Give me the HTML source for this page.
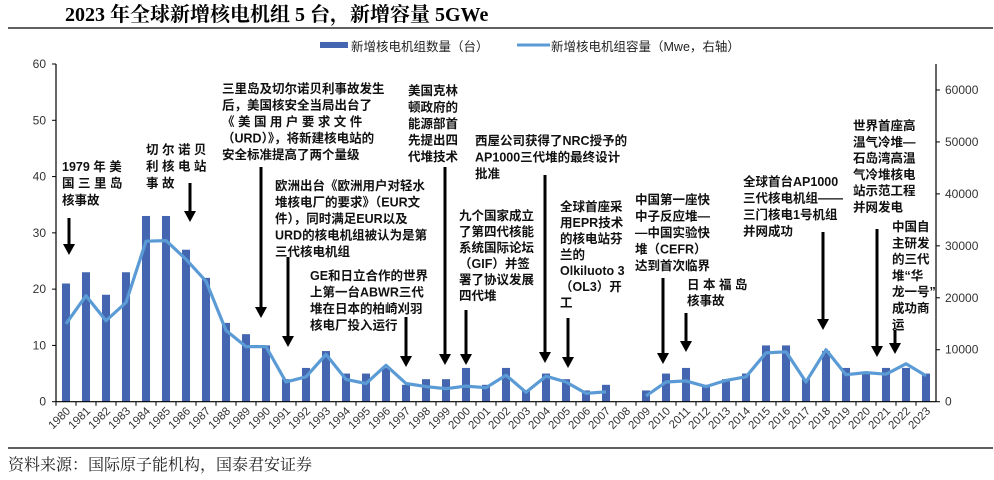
<!DOCTYPE html>
<html><head><meta charset="utf-8"><style>
body{margin:0;background:#fff;}
svg text{font-family:"Liberation Sans","Noto Sans CJK SC",sans-serif;}
.ann{font-size:12.5px;font-weight:bold;fill:#111;}
</style></head><body>
<svg id="c" width="994" height="475" xmlns="http://www.w3.org/2000/svg">
<text x="65" y="21" style="font-family:'Liberation Serif','Noto Serif CJK SC',serif;font-size:20px;font-weight:bold">2023 年全球新增核电机组 5 台，新增容量 5GWe</text>
<line x1="8" y1="28" x2="993" y2="28" stroke="#000" stroke-width="1.3"/>
<g>
<rect x="320" y="42" width="28" height="6" fill="#4466b0"/>
<text x="351" y="51" font-size="12.5" fill="#222">新增核电机组数量（台）</text>
<line x1="517" y1="45" x2="550" y2="45" stroke="#5b9bd5" stroke-width="3"/>
<text x="551" y="51" font-size="12.5" fill="#222">新增核电机组容量（Mwe，右轴）</text>
</g>
<g id="plot"></g>
<g id="ann"></g>
<line x1="8" y1="448" x2="993" y2="448" stroke="#000" stroke-width="1.2"/>
<text x="8" y="470" font-size="16" fill="#222" style="font-family:'Liberation Serif','Noto Serif CJK SC',serif">资料来源：国际原子能机构，国泰君安证券</text>
</svg>
<script>
const years=[1980,1981,1982,1983,1984,1985,1986,1987,1988,1989,1990,1991,1992,1993,1994,1995,1996,1997,1998,1999,2000,2001,2002,2003,2004,2005,2006,2007,2008,2009,2010,2011,2012,2013,2014,2015,2016,2017,2018,2019,2020,2021,2022,2023];
const units=[21,23,19,23,33,33,27,22,14,12,10,4,6,9,5,5,6,3,4,4,6,3,6,2,5,4,2,3,0,2,5,6,3,4,5,10,10,4,9,6,5,6,6,5];
const capacity=[15000,20400,15600,19100,30900,31000,27400,23200,13700,10600,10600,3800,4800,9100,4300,3500,7000,3500,2900,2500,3000,2700,5100,1800,4900,3800,1600,1900,null,1100,3800,4000,2900,4100,4800,9400,9600,3800,10000,5200,5600,5300,7300,5000];
const leftTicks=[0,10,20,30,40,50,60];
const rightTicks=[0,10000,20000,30000,40000,50000,60000];
const NS='http://www.w3.org/2000/svg';
const X0=56,X1=936,Y0=401.7,Y1=64;
const step=(X1-X0)/years.length;
const xc=i=>X0+step*(i+0.5);
const yL=v=>Y0-(v/60)*(Y0-Y1);
const yR=v=>Y0-(v/65000)*(Y0-Y1);
const plot=document.getElementById('plot');
function mk(tag,attrs,parent){const e=document.createElementNS(NS,tag);for(const k in attrs)e.setAttribute(k,attrs[k]);(parent||plot).appendChild(e);return e;}
units.forEach((v,i)=>{const r=mk('rect',{x:xc(i)-4,y:yL(v),width:8,height:Y0-yL(v),fill:'#4466b0'});

});
let d='',pen=false;
capacity.forEach((v,i)=>{if(v===null){pen=false;return;}d+=(pen?'L':'M')+xc(i).toFixed(1)+','+yR(v).toFixed(1);pen=true;});
const ln=mk('path',{d:d,fill:'none',stroke:'#5b9bd5','stroke-width':3.2,'stroke-linejoin':'round'});


const ax=mk('line',{x1:X0,y1:Y1,x2:X0,y2:Y0,stroke:'#000','stroke-width':1.2});


const ar=mk('line',{x1:X1,y1:Y1,x2:X1,y2:Y0,stroke:'#000','stroke-width':1.2});


const axb=mk('line',{x1:X0,y1:Y0,x2:X1,y2:Y0,stroke:'#000','stroke-width':1.2});


leftTicks.forEach(v=>{mk('line',{x1:X0-4,y1:yL(v),x2:X0,y2:yL(v),stroke:'#000'});
const t=mk('text',{x:X0-10,y:yL(v)+4,'text-anchor':'end','font-size':12,fill:'#333'});t.textContent=v;

});
rightTicks.forEach(v=>{mk('line',{x1:X1,y1:yR(v),x2:X1+4,y2:yR(v),stroke:'#000'});
const t=mk('text',{x:X1+9,y:yR(v)+4,'font-size':12,fill:'#333'});t.textContent=v;

});
years.forEach((y,i)=>{mk('line',{x1:X0+step*i,y1:Y0,x2:X0+step*i,y2:Y0+4,stroke:'#000'});
const x=xc(i)+5,yy=Y0+10;
const t=mk('text',{x:x,y:yy,'text-anchor':'end','font-size':11.5,fill:'#333',transform:'rotate(-45 '+x+' '+yy+')'});t.textContent=y;

});
const ann=document.getElementById('ann');
const arrows=[[69,218,255],[190,183,222],[261,167,318],[288,257,347],[406,317,367],[445,167,365],[466,310,365],[545,175,363],[568,318,368],[663,278,364],[686,313,352],[823,232,330],[877,229,357],[895,330,354]];
arrows.forEach(a=>{const g=mk('g',{},ann);


mk('line',{x1:a[0],y1:a[1],x2:a[0],y2:a[2]-9,stroke:'#000','stroke-width':3},g);
mk('polygon',{points:(a[0]-6)+','+(a[2]-11)+' '+(a[0]+6)+','+(a[2]-11)+' '+a[0]+','+a[2],fill:'#000'},g);});
const texts=[
[62,167,16.7,['1979 年 美','国 三 里 岛','核事故']],
[146,150,16.7,['切 尔 诺 贝','利 核 电 站','事 故']],
[222,89,16.5,['三里岛及切尔诺贝利事故发生','后，美国核安全当局出台了','《 美 国 用 户 要 求 文 件','（URD）》，将新建核电站的','安全标准提高了两个量级']],
[408,91,16.5,['美国克林','顿政府的','能源部首','先提出四','代堆技术']],
[275,186,16.5,['欧洲出台《欧洲用户对轻水','堆核电厂的要求》（EUR文','件），同时满足EUR以及','URD的核电机组被认为是第','三代核电机组']],
[475,141,16.5,['西屋公司获得了NRC授予的','AP1000三代堆的最终设计','批准']],
[459,216,16,['九个国家成立','了第四代核能','系统国际论坛','（GIF）并签','署了协议发展','四代堆']],
[310,276,16.5,['GE和日立合作的世界','上第一台ABWR三代','堆在日本的柏崎刈羽','核电厂投入运行']],
[560,207,16,['全球首座采','用EPR技术','的核电站芬','兰的','Olkiluoto 3','（OL3）开','工']],
[635,200,16.5,['中国第一座快','中子反应堆—','—中国实验快','堆（CEFR）','达到首次临界']],
[687,285,16,['日 本 福 岛','核事故']],
[743,182,16.5,['全球首台AP1000','三代核电机组——','三门核电1号机组','并网成功']],
[853,126,16.3,['世界首座高','温气冷堆—','石岛湾高温','气冷堆核电','站示范工程','并网发电']],
[892,227,16.3,['中国自','主研发','的三代','堆“华','龙一号”','成功商','运']]
];
texts.forEach(t=>{const e=mk('text',{class:'ann',x:t[0],y:t[1]},ann);


t[3].forEach((s,k)=>{const sp=mk('tspan',{x:t[0],y:t[1]+k*t[2]+4},e);sp.textContent=s;});});
</script>
</body></html>
